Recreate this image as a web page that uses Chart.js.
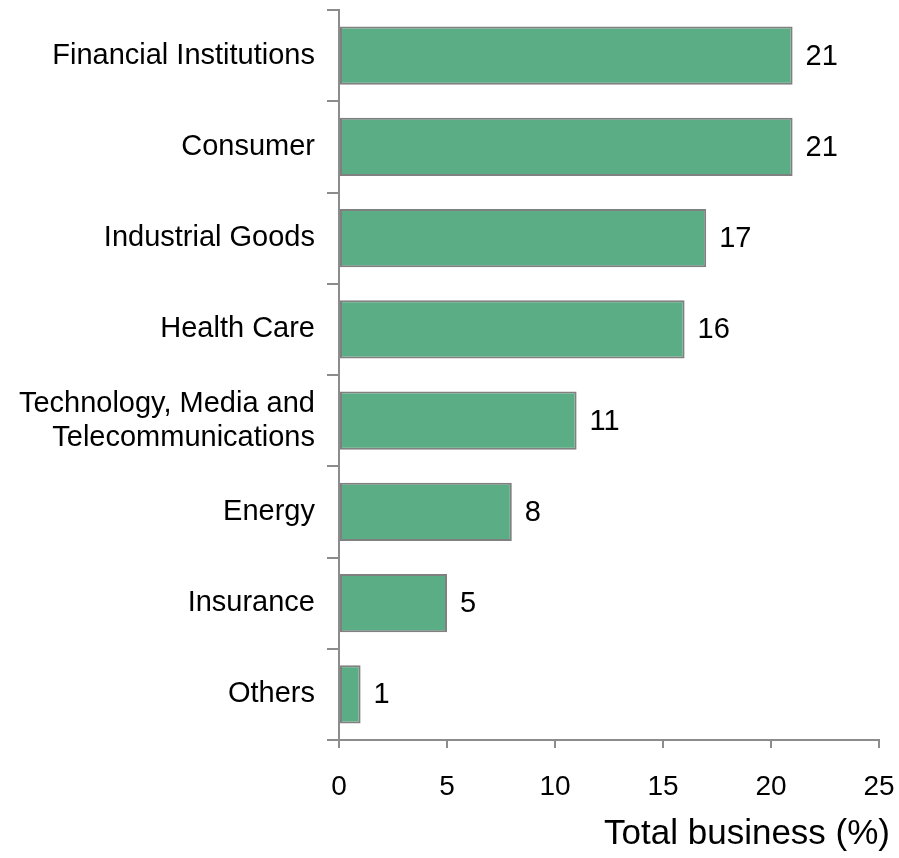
<!DOCTYPE html>
<html>
<head>
<meta charset="utf-8">
<script src="https://cdn.jsdelivr.net/npm/chart.js@4.4.0/dist/chart.umd.min.js"></script>
<style>
  html, body { margin: 0; padding: 0; background: #fff; }
  #wrap { width: 899px; height: 858px; }
</style>
</head>
<body>
<div id="wrap"><canvas id="myChart" width="899" height="858"></canvas></div>
<script>
const sectors = [
     "Financial Institutions",
     "Consumer",
     "Industrial Goods",
     "Health Care",
     ["Technology, Media and", "Telecommunications"],
     "Energy",
     "Insurance",
     "Others"
];
const shares = [21, 21, 17, 16, 11, 8, 5, 1];
const axisTitle = "Total business (%)";

const fontFamily = "'Liberation Sans', Arial, sans-serif";
const grey = "#8c8c8c";

// numbers to the right of each bar + axis title
const valueLabels = {
     id: "valueLabels",
     afterDatasetsDraw(chart) {
          const ctx = chart.ctx;
          const meta = chart.getDatasetMeta(0);
          ctx.save();
          ctx.font = "29px " + fontFamily;
          ctx.fillStyle = "#000";
          ctx.textAlign = "left";
          ctx.textBaseline = "middle";
          meta.data.forEach((bar, i) => {
               ctx.fillText(String(shares[i]), bar.x + 13, bar.y + 1);
          });
          // x axis title, a bit past the right end of the axis
          ctx.font = "35px " + fontFamily;
          ctx.textAlign = "right";
          ctx.fillText(axisTitle, chart.chartArea.right + 11, 834);
          ctx.restore();
     }
};

const data = {
     labels: sectors,
     datasets: [{
          data: shares,
          backgroundColor: "rgb(90, 173, 132)",
          borderColor: "rgb(128, 128, 128)",
          borderWidth: 2,
          borderSkipped: false,
          barPercentage: 0.64,
          categoryPercentage: 1
     }]
};

const config = {
     type: "bar",
     data: data,
     options: {
          indexAxis: "y",
          responsive: false,
          animation: false,
          layout: { padding: { top: 10, right: 20, bottom: 0, left: 0 } },
          plugins: {
               legend: { display: false },
               tooltip: { enabled: false }
          },
          scales: {
               y: {
                    afterFit: (s) => {
                         s.width = 339;
                         s.paddingTop = 0;
                         s.paddingBottom = 0;
                    },
                    grid: {
                         drawOnChartArea: false,
                         tickLength: 12,
                         color: grey,
                         lineWidth: 2
                    },
                    border: { color: grey, width: 2 },
                    ticks: {
                         color: "#000",
                         padding: 12,
                         font: { family: fontFamily, size: 29, lineHeight: 1.17 }
                    }
               },
               x: {
                    min: 0,
                    max: 25,
                    afterFit: (s) => {
                         s.height = 118;
                         s.paddingLeft = 0;
                         s.paddingRight = 0;
                    },
                    grid: {
                         drawOnChartArea: false,
                         tickLength: 8,
                         color: grey,
                         lineWidth: 2
                    },
                    border: { color: grey, width: 2 },
                    ticks: {
                         stepSize: 5,
                         color: "#000",
                         padding: 22,
                         font: { family: fontFamily, size: 28 }
                    }
               }
          }
     },
     plugins: [valueLabels]
};

const myChart = new Chart(document.getElementById("myChart"), config);
</script>
</body>
</html>
